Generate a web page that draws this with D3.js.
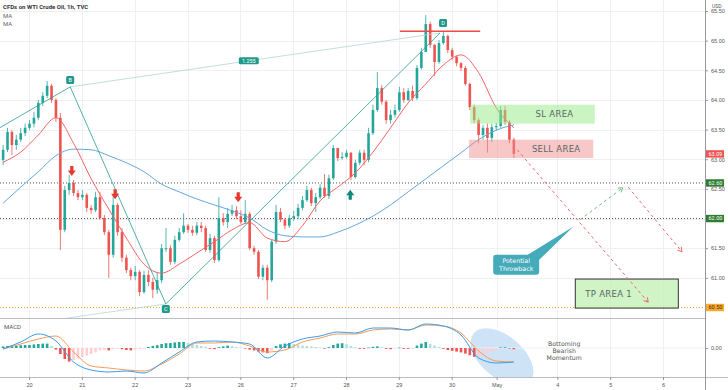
<!DOCTYPE html>
<html>
<head>
<meta charset="utf-8">
<script src="https://cdn.jsdelivr.net/npm/d3@7"></script>
<style>
  body { margin: 0; background: #fff; }
  svg { display: block; font-family: Roboto, "Liberation Sans", sans-serif; }
</style>
</head>
<body>
<svg id="chart" width="728" height="390"></svg>
<script>
// Oś czasu (dni sesyjne)
const dayLabels = ["20", "21", "22", "23", "26", "27", "28", "29", "30", "May", "4", "5", "6"];
const dayTicks = [0, 1, 2, 3, 4, 5, 6, 7, 8, 8.85, 10, 11, 12];
const firstBarDay = -0.49;
const barStep = 1 / 12; // świeca co 2h
const priceTicks = [61, 61.5, 62, 62.5, 63, 63.5, 64, 64.5, 65, 65.5];

// Świece
const firstOpen = 62.99;
const closes = [
  63.16, 63.46, 63.24, 63.33, 63.44, 63.53, 63.60, 63.70, 63.95, 64.07,
  64.24, 64.00, 63.70, 61.81, 62.48, 62.60, 62.43, 62.36, 62.40, 62.18,
  62.14, 62.36, 62.01, 61.77, 61.39, 62.23, 61.77, 61.34, 61.13, 61.03,
  61.10, 60.76, 61.05, 60.93, 60.80, 60.96, 61.50, 61.50, 61.27, 61.64,
  61.77, 61.88, 61.81, 61.76, 61.88, 61.84, 61.47, 61.67, 61.30, 62.01,
  61.94, 62.08, 62.14, 62.04, 61.94, 62.08, 61.50, 61.44, 61.02, 61.17,
  60.96, 61.61, 62.11, 61.98, 61.88, 62.01, 62.04, 62.18, 62.31, 62.48,
  62.26, 62.36, 62.52, 62.38, 62.68, 63.19, 63.02, 63.04, 63.11, 62.70,
  62.94, 63.11, 62.99, 63.44, 63.83, 64.20, 63.97, 63.66, 63.75, 63.83,
  64.13, 64.00, 64.15, 64.03, 64.54, 64.81, 65.28, 64.93, 64.64, 64.96,
  65.08, 64.84, 64.73, 64.62, 64.54, 64.27, 63.88, 63.66, 63.41, 63.53,
  63.36, 63.54, 63.56, 63.83, 63.63, 63.33, 63.09
];
const highs = [
  63.24, 63.53, 63.49, 63.41, 63.53, 63.60, 63.66, 63.80, 64.00, 64.13,
  64.32, 64.27, 64.03, 63.78, 62.55, 62.74, 62.65, 62.48, 62.48, 62.43,
  62.23, 62.45, 62.45, 62.06, 61.81, 62.40, 62.26, 61.84, 61.39, 61.17,
  61.20, 61.13, 61.12, 61.13, 61.00, 61.10, 61.57, 61.84, 61.55, 61.71,
  61.84, 62.09, 61.91, 61.88, 61.94, 61.94, 61.88, 61.74, 61.71, 62.36,
  62.09, 62.18, 62.23, 62.21, 62.14, 62.31, 62.11, 61.54, 61.47, 61.22,
  61.22, 61.64, 62.23, 62.18, 62.01, 62.06, 62.13, 62.25, 62.38, 62.55,
  62.52, 62.43, 62.58, 62.75, 62.74, 63.24, 63.19, 63.12, 63.16, 63.12,
  62.99, 63.16, 63.16, 63.53, 63.92, 64.47, 64.25, 64.00, 63.83, 63.92,
  64.22, 64.20, 64.20, 64.24, 64.59, 64.88, 65.43, 65.32, 64.94, 65.01,
  65.15, 65.10, 64.88, 64.74, 64.64, 64.57, 64.29, 63.92, 63.70, 63.58,
  63.60, 63.60, 63.61, 63.90, 63.90, 63.66, 63.36
];
const lows = [
  62.90, 63.12, 63.07, 63.16, 63.29, 63.39, 63.49, 63.54, 63.66, 63.90,
  64.03, 63.95, 63.63, 61.47, 61.77, 62.40, 62.38, 62.31, 62.31, 62.11,
  62.08, 62.11, 61.98, 61.72, 61.00, 61.34, 61.71, 61.27, 61.08, 60.96,
  60.96, 60.69, 60.73, 60.86, 60.66, 60.73, 60.91, 61.44, 61.22, 61.23,
  61.61, 61.74, 61.76, 61.71, 61.72, 61.77, 61.44, 61.42, 61.25, 61.27,
  61.88, 61.84, 62.04, 61.99, 61.91, 61.91, 61.47, 61.39, 60.98, 60.96,
  60.63, 60.93, 61.57, 61.94, 61.82, 61.84, 61.96, 61.99, 62.14, 62.28,
  62.21, 62.11, 62.33, 62.35, 62.33, 62.65, 62.97, 62.99, 63.01, 62.65,
  62.67, 62.90, 62.90, 62.95, 63.41, 63.80, 63.92, 63.60, 63.60, 63.70,
  63.80, 63.95, 63.98, 63.98, 64.00, 64.51, 64.81, 64.88, 64.40, 64.61,
  64.93, 64.79, 64.67, 64.57, 64.49, 64.24, 63.83, 63.61, 63.27, 63.33,
  63.11, 63.29, 63.48, 63.53, 63.58, 63.27, 63.02
];

// Średnie kroczące (co 4 świece)
const maStep = 4;
const maFast = [
  62.95, 63.12, 63.41, 63.70, 63.27, 62.67, 62.16, 61.67, 61.23, 61.08,
  61.23, 61.42, 61.61, 61.81, 61.93, 61.67, 61.61, 61.88, 62.30, 62.53,
  62.77, 63.12, 63.53, 63.95, 64.27, 64.59, 64.76, 64.46, 63.87, 63.53
];
const maSlow = [
  62.26, 62.53, 62.79, 63.06, 63.17, 63.16, 63.06, 62.94, 62.79, 62.58,
  62.45, 62.33, 62.23, 62.13, 62.01, 61.81, 61.71, 61.69, 61.69, 61.77,
  61.89, 62.04, 62.23, 62.45, 62.67, 62.89, 63.11, 63.33, 63.49, 63.58
];

// MACD (linie co 4 świece, histogram co świecę)
const macdLine = [
  -0.005, 0.03, 0.07, 0.035, -0.07, -0.11, -0.12, -0.115, -0.125, -0.075,
  -0.02, 0.03, 0.035, 0.03, 0.02, -0.05, 0.01, 0.045, 0.06, 0.08,
  0.075, 0.10, 0.10, 0.09, 0.12, 0.11, 0.065, -0.05, -0.075, -0.07
];
const signalLine = [
  -0.005, 0.02, 0.045, 0.06, -0.02, -0.09, -0.10, -0.11, -0.115, -0.08,
  -0.03, 0.025, 0.025, 0.03, 0.01, -0.02, -0.01, 0.03, 0.05, 0.07,
  0.07, 0.09, 0.095, 0.09, 0.115, 0.11, 0.075, -0.015, -0.065, -0.07
];
const histogram = [
  0.008, 0.010, 0.012, 0.012, 0.014, 0.015, 0.015, 0.018, 0.020, 0.022,
  0.022, 0.010, -0.008, -0.030, -0.055, -0.068, -0.060, -0.052, -0.045, -0.038,
  -0.030, -0.022, -0.012, -0.010, -0.012, -0.006, -0.003, -0.006, -0.010, -0.012,
  -0.008, -0.005, -0.002, 0.005, 0.010, 0.014, 0.020, 0.024, 0.025, 0.028,
  0.030, 0.030, 0.025, 0.020, 0.015, 0.010, 0.006, -0.004, -0.006, 0.004,
  0.008, 0.012, 0.010, 0.005, 0.003, -0.003, -0.008, -0.012, -0.018, -0.022,
  -0.026, -0.012, 0.010, 0.018, 0.022, 0.025, 0.020, 0.016, 0.012, 0.010,
  0.008, 0.005, 0.002, -0.003, 0.004, 0.015, 0.022, 0.024, 0.018, 0.010,
  0.004, -0.004, -0.004, 0.002, 0.006, 0.008, 0.004, -0.004, -0.006, -0.002,
  0.002, -0.004, -0.004, -0.002, 0.012, 0.022, 0.030, 0.020, 0.012, 0.005,
  -0.004, -0.010, -0.014, -0.018, -0.022, -0.028, -0.036, -0.044, -0.042, -0.034,
  -0.026, -0.018, -0.010, 0.003, 0.004, -0.002, -0.006
];

// Poziomy
const levelValues = [62.60, 62.00];
const tpLevel = 60.50;

// Rysunki (dzień, cena)
const patternA = [-1.31, 63.14];
const patternB = [0.78, 64.22];
const patternC = [2.59, 60.56];
const patternD = [7.78, 65.13];
const acStart = [-0.549, 60.16];
const downArrows = [[0.81, 62.80], [1.63, 62.41], [3.96, 62.36]];
const upArrows = [[6.08, 62.40]];
const dLine = [7.02, 8.54, 65.16];
const slArea = [8.35, 10.71, 63.92, 63.60];
const sellArea = [8.33, 10.68, 63.33, 63.02];
const tpArea = [10.34, 12.29, 60.98, 60.49];
const pathDown1 = [[9.24, 63.16], [11.72, 60.59]];
const pathUp = [[10.43, 61.98], [11.24, 62.52]];
const pathDown2 = [[11.34, 62.53], [12.36, 61.44]];
const calloutTip = [10.30, 61.86];

// Wymiary
const svg = d3.select("#chart");
const paneRight = 705, priceBottom = 318, macdBottom = 377;
const upColor = "#26a69a", downColor = "#ef5350";

const x = d3.scaleLinear().domain([0, 12]).range([29, 663]);
const y = d3.scaleLinear().domain([60.5, 65.5]).range([307.5, 11]);
const ym = d3.scaleLinear().domain([-0.145, 0.14]).range([macdBottom, 320]);
const barDay = (i) => firstBarDay + i * barStep;

const defs = svg.append("defs");
defs.append("clipPath").attr("id", "clipPrice")
  .append("rect").attr("width", paneRight).attr("height", priceBottom);
defs.append("clipPath").attr("id", "clipMacd")
  .append("rect").attr("y", priceBottom).attr("width", paneRight).attr("height", macdBottom - priceBottom);

// Siatka
const grid = svg.append("g").attr("stroke", "#eef0f4").attr("stroke-width", 1);
grid.selectAll(".vg").data(dayTicks).join("line")
  .attr("x1", d => Math.round(x(d)) + 0.5).attr("x2", d => Math.round(x(d)) + 0.5)
  .attr("y1", 0).attr("y2", macdBottom);
grid.selectAll(".hg").data(priceTicks).join("line")
  .attr("x1", 0).attr("x2", paneRight)
  .attr("y1", d => Math.round(y(d)) + 0.5).attr("y2", d => Math.round(y(d)) + 0.5);

const price = svg.append("g").attr("clip-path", "url(#clipPrice)");

// Poziomy kropkowane
price.selectAll(".lvl").data(levelValues).join("line")
  .attr("x1", 0).attr("x2", paneRight)
  .attr("y1", d => y(d)).attr("y2", d => y(d))
  .attr("stroke", "#555").attr("stroke-dasharray", "1,2");
price.append("line")
  .attr("x1", 0).attr("x2", paneRight).attr("y1", y(tpLevel)).attr("y2", y(tpLevel))
  .attr("stroke", "#f5a623").attr("stroke-dasharray", "1,2");

// Świece
const bars = closes.map((c, i) => {
  const o = i === 0 ? firstOpen : closes[i - 1];
  return { t: barDay(i), o, c, h: Math.max(highs[i], o, c), l: Math.min(lows[i], o, c) };
});
const candle = price.selectAll(".candle").data(bars).join("g")
  .attr("fill", d => d.c >= d.o ? upColor : downColor)
  .attr("stroke", d => d.c >= d.o ? upColor : downColor);
candle.append("line")
  .attr("x1", d => x(d.t)).attr("x2", d => x(d.t))
  .attr("y1", d => y(d.h)).attr("y2", d => y(d.l)).attr("stroke-width", 0.8);
candle.append("rect")
  .attr("stroke", "none")
  .attr("x", d => x(d.t) - 1.3).attr("width", 2.6)
  .attr("y", d => y(Math.max(d.o, d.c)))
  .attr("height", d => Math.max(1, Math.abs(y(d.o) - y(d.c))));

// MA
const maLine = d3.line()
  .x((d, k) => x(barDay(k * maStep))).y(d => y(d))
  .curve(d3.curveMonotoneX);
price.append("path").attr("d", maLine(maSlow))
  .attr("fill", "none").attr("stroke", "#64a8dc").attr("stroke-width", 1);
price.append("path").attr("d", maLine(maFast))
  .attr("fill", "none").attr("stroke", "#f26565").attr("stroke-width", 1);

// Formacja ABCD
const pt = (p) => [x(p[0]), y(p[1])];
const seg = (g, a, b, color, w) => g.append("line")
  .attr("x1", pt(a)[0]).attr("y1", pt(a)[1]).attr("x2", pt(b)[0]).attr("y2", pt(b)[1])
  .attr("stroke", color).attr("stroke-width", w);
seg(price, acStart, patternC, "#b4d6d2", 0.8);
seg(price, patternB, patternD, "#b4d6d2", 0.8);
seg(price, patternA, patternB, "#2a9d8f", 0.8);
seg(price, patternB, patternC, "#2a9d8f", 0.8);
seg(price, patternC, patternD, "#2a9d8f", 0.8);

price.append("line")
  .attr("x1", x(dLine[0])).attr("x2", x(dLine[1]))
  .attr("y1", y(dLine[2])).attr("y2", y(dLine[2]))
  .attr("stroke", "#ef4a45").attr("stroke-width", 1.5);

// Strefy SL / SELL / TP
const box = (a, fill, stroke) => price.append("rect")
  .attr("x", x(a[0])).attr("width", x(a[1]) - x(a[0]))
  .attr("y", y(a[2])).attr("height", y(a[3]) - y(a[2]))
  .attr("fill", fill).attr("stroke", stroke || "none");
box(slArea, "rgba(150,235,135,0.5)");
box(sellArea, "rgba(240,140,140,0.48)");
box(tpArea, "rgba(190,240,175,0.7)", "#333");

const areaText = (t, px, py, anchor) => price.append("text")
  .attr("x", px).attr("y", py).attr("dy", "0.35em").attr("text-anchor", anchor)
  .attr("font-family", "DejaVu Sans, sans-serif").attr("font-size", 8.5)
  .attr("fill", "#5b6663").attr("letter-spacing", 0.3).text(t);
areaText("SL AREA", x((slArea[0] + slArea[1]) / 2) + 22, y((slArea[2] + slArea[3]) / 2), "middle");
areaText("SELL AREA", x((sellArea[0] + sellArea[1]) / 2) + 25, y((sellArea[2] + sellArea[3]) / 2), "middle");
areaText("TP AREA 1", x(tpArea[0]) + 10, y((tpArea[2] + tpArea[3]) / 2), "start");

// Strzałki przerywane
function dashedArrow(p, color) {
  const [x1, y1] = pt(p[0]), [x2, y2] = pt(p[1]);
  price.append("line").attr("x1", x1).attr("y1", y1).attr("x2", x2).attr("y2", y2)
    .attr("stroke", color).attr("stroke-dasharray", "3,3").attr("stroke-width", 1);
  const a = Math.atan2(y2 - y1, x2 - x1);
  [a + 2.6, a - 2.6].forEach(b => price.append("line")
    .attr("x1", x2).attr("y1", y2)
    .attr("x2", x2 + 5 * Math.cos(b)).attr("y2", y2 + 5 * Math.sin(b))
    .attr("stroke", color).attr("stroke-width", 1));
}
dashedArrow(pathDown1, "#ee6a6a");
dashedArrow(pathUp, "#77bb80");
dashedArrow(pathDown2, "#ee6a6a");

// Strzałki sygnałów
price.selectAll(".dn").data(downArrows).join("path")
  .attr("transform", d => `translate(${x(d[0])},${y(d[1])})`)
  .attr("d", "M-1.6,-5 h3.2 v4.5 h2.4 l-4,5.5 l-4,-5.5 h2.4 z")
  .attr("fill", "#e5392f");
price.selectAll(".up").data(upArrows).join("path")
  .attr("transform", d => `translate(${x(d[0])},${y(d[1])})`)
  .attr("d", "M-1.6,5 h3.2 v-4.5 h2.4 l-4,-5.5 l-4,5.5 h2.4 z")
  .attr("fill", "#11897a");

// Etykiety B, C, D i 1.255
function tag(px, py, w, h, t, fill, size) {
  const g = price.append("g").attr("transform", `translate(${px},${py})`);
  g.append("rect").attr("x", -w / 2).attr("y", -h / 2).attr("width", w).attr("height", h)
    .attr("rx", 1.5).attr("fill", fill);
  g.append("text").attr("text-anchor", "middle").attr("dy", "0.35em")
    .attr("font-size", size).attr("fill", "#fff").text(t);
}
tag(pt(patternB)[0], pt(patternB)[1] - 7, 8, 8, "B", "#1f9a8a", 5.5);
tag(pt(patternC)[0], pt(patternC)[1] + 5, 8, 8, "C", "#1f9a8a", 5.5);
tag(pt(patternD)[0] + 3, pt(patternD)[1] - 10, 8, 8, "D", "#1f9a8a", 5.5);
const mid = [(patternB[0] + patternD[0]) / 2 - 0.12, 0];
mid[1] = patternB[1] + (patternD[1] - patternB[1]) * (mid[0] - patternB[0]) / (patternD[0] - patternB[0]);
tag(pt(mid)[0], pt(mid)[1], 20, 7, "1.255", "#1f9a8a", 5.5);

// Dymek "Potential Throwback"
const [tx, ty] = pt(calloutTip);
price.append("path")
  .attr("d", `M${tx - 47},${ty + 29} L${tx},${ty} L${tx - 34},${ty + 33} Z`)
  .attr("fill", "#45aab9");
price.append("rect")
  .attr("x", tx - 80).attr("y", ty + 28).attr("width", 46).attr("height", 20)
  .attr("rx", 3).attr("fill", "#45aab9");
price.selectAll(".cl").data(["Potential", "Throwback"]).join("text")
  .attr("x", tx - 57).attr("y", (d, i) => ty + 34 + i * 7.5).attr("dy", "0.35em")
  .attr("text-anchor", "middle").attr("font-family", "DejaVu Sans, sans-serif")
  .attr("font-size", 6.3).attr("fill", "#fff").text(d => d);

// Panel MACD
const macd = svg.append("g").attr("clip-path", "url(#clipMacd)");
macd.append("ellipse")
  .attr("transform", `translate(${x(8.953)},${ym(-0.045)}) rotate(40)`)
  .attr("rx", 37).attr("ry", 21).attr("fill", "#cfe3f6");
macd.append("line").attr("x1", 0).attr("x2", paneRight)
  .attr("y1", ym(0)).attr("y2", ym(0)).attr("stroke", "#eef0f4");

const histColor = (v, prev) => v >= 0
  ? (v >= prev ? "#26a69a" : "#b2dfdb")
  : (v <= prev ? "#ef5350" : "#ffcdd2");
macd.selectAll(".hist").data(histogram).join("rect")
  .attr("x", (d, i) => x(barDay(i)) - 1.3).attr("width", 2.6)
  .attr("y", d => Math.min(ym(d), ym(0)))
  .attr("height", d => Math.max(0.6, Math.abs(ym(d) - ym(0))))
  .attr("fill", (d, i) => histColor(d, i ? histogram[i - 1] : 0));

const macdPath = d3.line()
  .x((d, k) => x(barDay(k * maStep))).y(d => ym(d))
  .curve(d3.curveMonotoneX);
macd.append("path").attr("d", macdPath(signalLine))
  .attr("fill", "none").attr("stroke", "#f59a55").attr("stroke-width", 1);
macd.append("path").attr("d", macdPath(macdLine))
  .attr("fill", "none").attr("stroke", "#3a9bef").attr("stroke-width", 1);

macd.selectAll(".bm").data(["Bottoming", "Bearish", "Momentum"]).join("text")
  .attr("x", x(10.13)).attr("y", (d, i) => ym(0.02) + i * 6.8).attr("dy", "0.35em")
  .attr("text-anchor", "middle").attr("font-family", "DejaVu Sans, sans-serif")
  .attr("font-size", 6.2).attr("fill", "#555").text(d => d);

// Separatory i oś
svg.append("line").attr("x1", 0).attr("x2", paneRight).attr("y1", priceBottom + 0.5).attr("y2", priceBottom + 0.5)
  .attr("stroke", "#b8bcc4");
svg.append("line").attr("x1", 0).attr("x2", 728).attr("y1", macdBottom + 0.5).attr("y2", macdBottom + 0.5)
  .attr("stroke", "#b8bcc4");
svg.append("line").attr("x1", paneRight + 0.5).attr("x2", paneRight + 0.5).attr("y1", 0).attr("y2", 390)
  .attr("stroke", "#9598a1");

// Etykiety cen na osi
const tags = [
  { v: closes[closes.length - 1], bg: "#ef5350", fg: "#fff" },
  { v: levelValues[0], bg: "#2e7d32", fg: "#fff" },
  { v: levelValues[1], bg: "#2e7d32", fg: "#fff" },
  { v: tpLevel, bg: "#ffa726", fg: "#333" },
];
const hidden = (d) => tags.some(t => Math.abs(t.v - d) < 0.05);

function styleAxis(g) {
  g.select(".domain").remove();
  g.selectAll(".tick line").attr("stroke", "#9598a1");
  g.selectAll(".tick text").attr("fill", "#555").attr("font-size", 5.5);
}
svg.append("g").attr("transform", `translate(${paneRight},0)`)
  .call(d3.axisRight(y).tickValues(priceTicks).tickSize(3).tickPadding(3)
    .tickFormat(d => hidden(d) ? "" : d3.format(".2f")(d)))
  .call(styleAxis);
svg.append("g").attr("transform", `translate(${paneRight},0)`)
  .call(d3.axisRight(ym).tickValues([0]).tickSize(3).tickPadding(3).tickFormat(d3.format(".2f")))
  .call(styleAxis);
svg.append("g").attr("transform", `translate(0,${macdBottom})`)
  .call(d3.axisBottom(x).tickValues(dayTicks).tickSize(3).tickPadding(3).tickFormat((d, i) => dayLabels[i]))
  .call(styleAxis);

const priceTag = svg.selectAll(".ptag").data(tags).join("g")
  .attr("transform", d => `translate(${paneRight + 1},${y(d.v)})`);
priceTag.append("rect").attr("y", -3.7).attr("width", 18).attr("height", 7.4).attr("fill", d => d.bg);
priceTag.append("text").attr("x", 2.5).attr("dy", "0.35em").attr("font-size", 5.5)
  .attr("fill", d => d.fg).text(d => d.v.toFixed(2));

svg.append("text").attr("x", 712).attr("y", 8).attr("font-size", 5).attr("fill", "#555").text("USD");

// Nagłówki
svg.append("text").attr("x", 3).attr("y", 9).attr("font-size", 6).attr("font-weight", "bold")
  .attr("fill", "#333").text("CFDs on WTI Crude Oil, 1h, TVC");
svg.selectAll(".ma").data(["MA", "MA"]).join("text")
  .attr("x", 3).attr("y", (d, i) => 17.5 + i * 8.5).attr("font-size", 6).attr("fill", "#666").text(d => d);
svg.append("text").attr("x", 4).attr("y", 329).attr("font-size", 6).attr("fill", "#555").text("MACD");
</script>
</body>
</html>
